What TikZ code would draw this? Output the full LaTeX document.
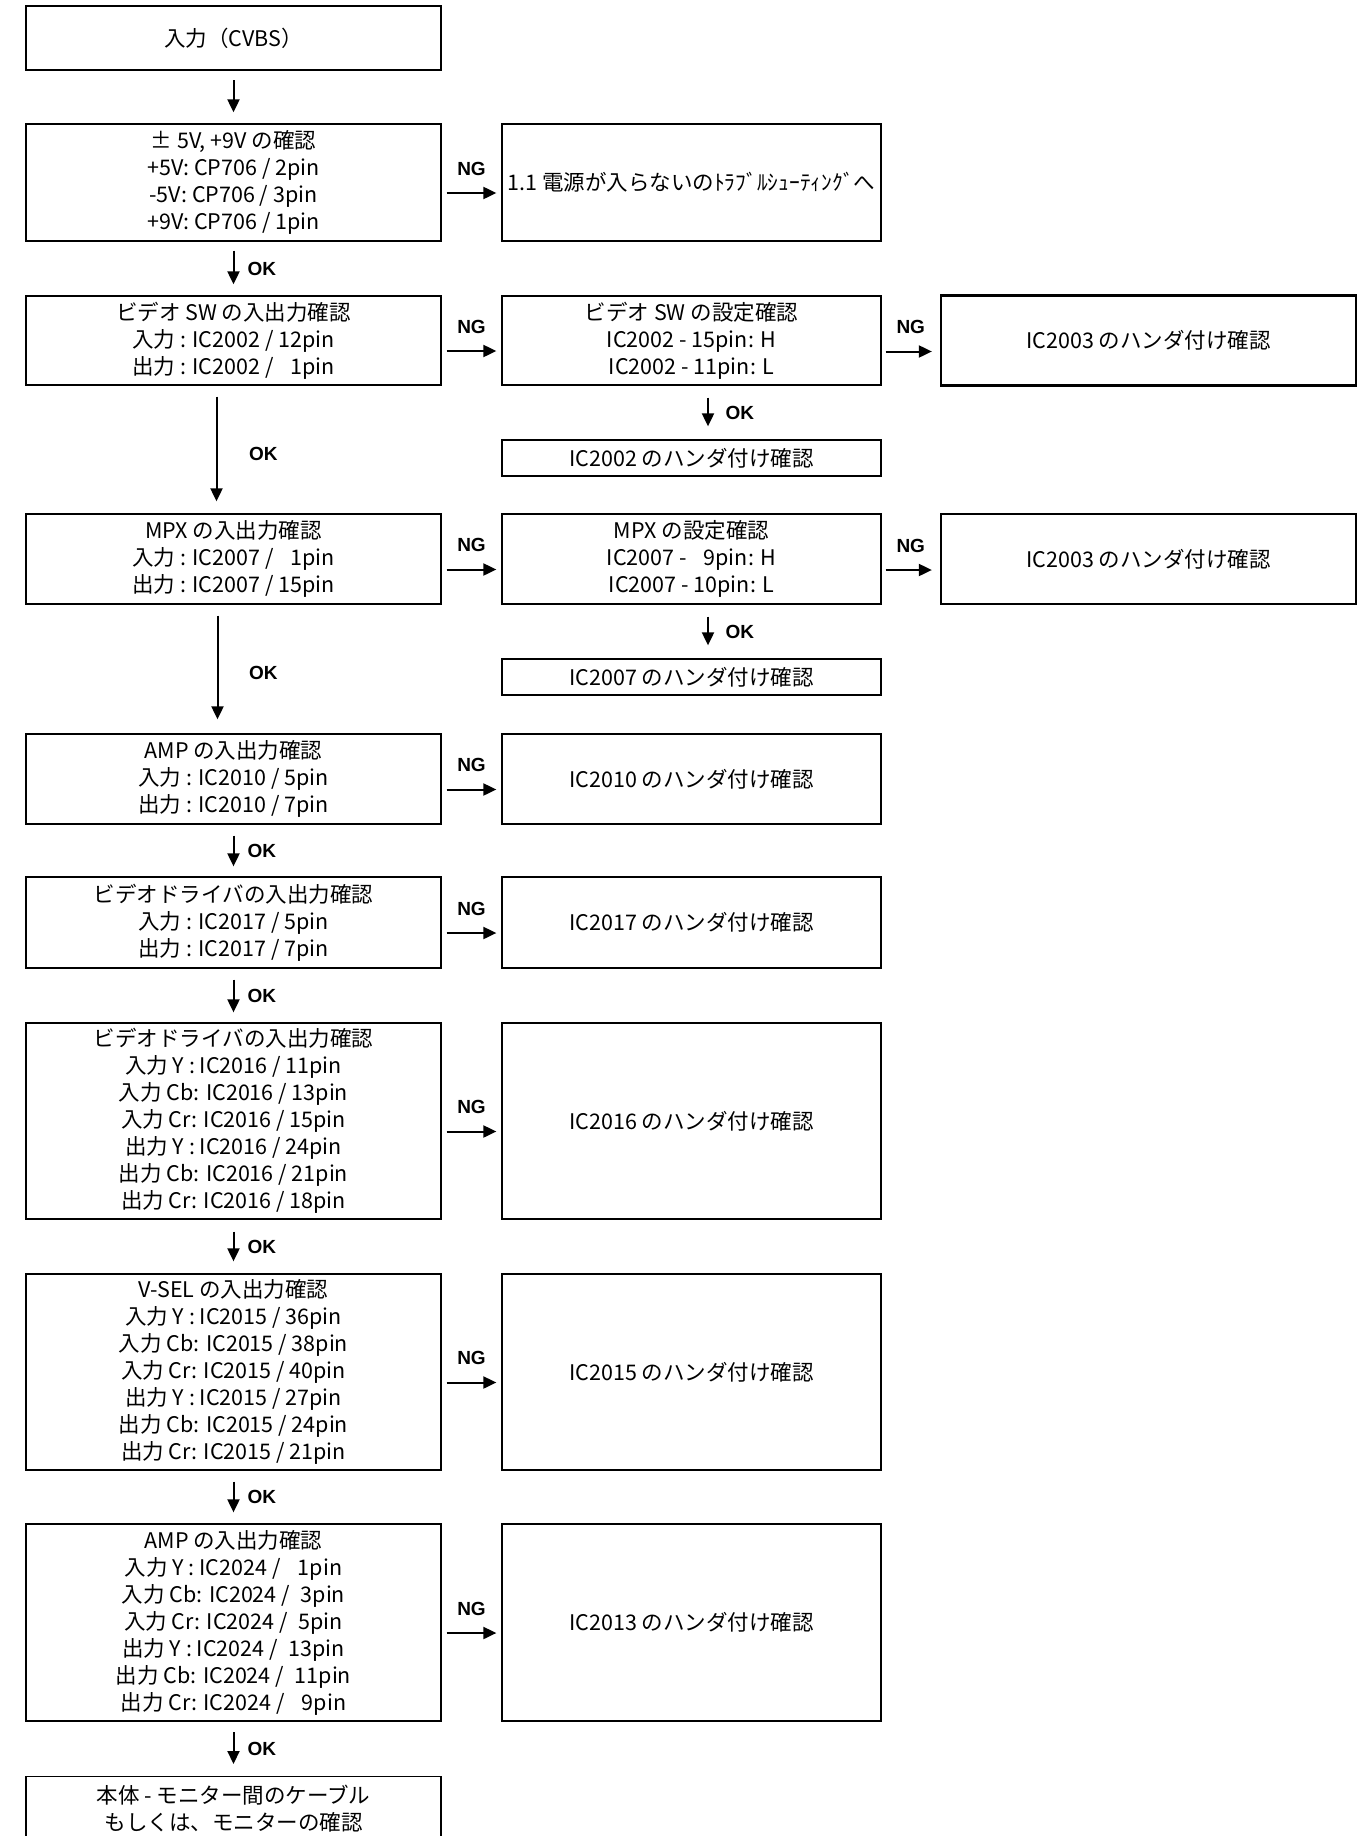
\documentclass[tikz,border=0pt]{standalone}
\usepackage{fontspec}
\newfontfamily\jpfont{Noto Sans CJK JP}
\newfontfamily\labfont{Liberation Sans}
\usetikzlibrary{arrows.meta}
\begin{document}
\begin{tikzpicture}[x=1pt,y=-1pt,
  box/.style={draw, line width=1.3pt, inner sep=0pt, align=center,
    font=\jpfont\fontsize{21.5}{27}\selectfont},
  lbox/.style={box, minimum width=415pt},
  mbox/.style={box, minimum width=379pt},
  rbox/.style={box, minimum width=415pt, line width=2.3pt},
  arr/.style={line width=2pt, -{Triangle[length=13pt,width=12pt]}},
  lab/.style={font=\labfont\bfseries\fontsize{19}{22}\selectfont, inner sep=0pt},
]
\useasboundingbox (0,0) rectangle (1366,1836);

% left column
\node[lbox, line width=2.3pt, minimum height=64pt] (in) at (233.5,38) {入力（CVBS）};
\node[lbox, minimum height=117pt] (pw) at (233.5,182.5) {± 5V, +9V の確認\\+5V: CP706 / 2pin\\-5V: CP706 / 3pin\\+9V: CP706 / 1pin};
\node[lbox, minimum height=89pt] (vsw) at (233.5,340.5) {ビデオ SW の入出力確認\\入力 : IC2002 / 12pin\\出力 : IC2002 / \phantom{1}1pin};
\node[lbox, minimum height=90pt] (mpx) at (233.5,559) {MPX の入出力確認\\入力 : IC2007 / \phantom{1}1pin\\出力 : IC2007 / 15pin};
\node[lbox, minimum height=90pt] (amp) at (233.5,779) {AMP の入出力確認\\入力 : IC2010 / 5pin\\出力 : IC2010 / 7pin};
\node[lbox, minimum height=91pt] (vd) at (233.5,922.5) {ビデオドライバの入出力確認\\入力 : IC2017 / 5pin\\出力 : IC2017 / 7pin};
\node[lbox, minimum height=196pt] (vdb) at (233.5,1121) {ビデオドライバの入出力確認\\入力 Y : IC2016 / 11pin\\入力 Cb: IC2016 / 13pin\\入力 Cr: IC2016 / 15pin\\出力 Y : IC2016 / 24pin\\出力 Cb: IC2016 / 21pin\\出力 Cr: IC2016 / 18pin};
\node[lbox, minimum height=196pt] (vsel) at (233.5,1372) {V-SEL の入出力確認\\入力 Y : IC2015 / 36pin\\入力 Cb: IC2015 / 38pin\\入力 Cr: IC2015 / 40pin\\出力 Y : IC2015 / 27pin\\出力 Cb: IC2015 / 24pin\\出力 Cr: IC2015 / 21pin};
\node[lbox, minimum height=197pt] (ampb) at (233.5,1622.5) {AMP の入出力確認\\入力 Y : IC2024 /\hspace{0.8em}1pin\\入力 Cb: IC2024 /\hspace{0.5em}3pin\\入力 Cr: IC2024 /\hspace{0.5em}5pin\\出力 Y : IC2024 /\hspace{0.5em}13pin\\出力 Cb: IC2024 /\hspace{0.5em}11pin\\出力 Cr: IC2024 /\hspace{0.8em}9pin};
\node[lbox, minimum height=64pt, anchor=north] (last) at (233.5,1776) {本体 - モニター間のケーブル\\もしくは、モニターの確認};

% middle column
\node[mbox, minimum height=117pt] (ngpw) at (691.5,182.5) {1.1 電源が入らないのﾄﾗﾌﾞﾙｼｭｰﾃｨﾝｸﾞへ};
\node[mbox, minimum height=89pt] (vsws) at (691.5,340.5) {ビデオ SW の設定確認\\IC2002 - 15pin: H\\IC2002 - 11pin: L};
\node[mbox, minimum height=36pt] (sol2002) at (691.5,458) {IC2002 のハンダ付け確認};
\node[mbox, minimum height=90pt] (mpxs) at (691.5,559) {MPX の設定確認\\IC2007 - \phantom{1}9pin: H\\IC2007 - 10pin: L};
\node[mbox, minimum height=36pt] (sol2007) at (691.5,677) {IC2007 のハンダ付け確認};
\node[mbox, minimum height=90pt] (sol2010) at (691.5,779) {IC2010 のハンダ付け確認};
\node[mbox, minimum height=91pt] (sol2017) at (691.5,922.5) {IC2017 のハンダ付け確認};
\node[mbox, minimum height=196pt] (sol2016) at (691.5,1121) {IC2016 のハンダ付け確認};
\node[mbox, minimum height=196pt] (sol2015) at (691.5,1372) {IC2015 のハンダ付け確認};
\node[mbox, minimum height=197pt] (sol2013) at (691.5,1622.5) {IC2013 のハンダ付け確認};

% right column
\node[rbox, minimum height=90pt] (sol2003a) at (1148.5,340.5) {IC2003 のハンダ付け確認};
\node[rbox, minimum height=90pt] (sol2003b) at (1148.5,559) {IC2003 のハンダ付け確認};

% OK arrows (left column)
\draw[arr, shorten <=9pt, shorten >=11pt] (in) -- (pw);
\draw[arr, shorten <=9pt, shorten >=11pt] (pw) -- node[lab, anchor=west, xshift=13pt]{OK} (vsw);
\draw[arr, shorten <=11pt, shorten >=12pt] ([xshift=-17pt]vsw.south) -- node[lab, anchor=west, xshift=31.5pt, yshift=-4pt]{OK} ([xshift=-17pt]mpx.north);
\draw[arr, shorten <=11pt, shorten >=14pt] ([xshift=-16pt]mpx.south) -- node[lab, anchor=west, xshift=30.5pt, yshift=-4pt]{OK} ([xshift=-16pt]amp.north);
\draw[arr, shorten <=11pt, shorten >=10pt] (amp) -- node[lab, anchor=west, xshift=13pt]{OK} (vd);
\draw[arr, shorten <=11pt, shorten >=10pt] (vd) -- node[lab, anchor=west, xshift=13pt]{OK} (vdb);
\draw[arr, shorten <=12pt, shorten >=12pt] (vdb) -- node[lab, anchor=west, xshift=13pt]{OK} (vsel);
\draw[arr, shorten <=11pt, shorten >=11pt] (vsel) -- node[lab, anchor=west, xshift=13pt]{OK} (ampb);
\draw[arr, shorten <=10.5pt, shorten >=12pt] (ampb) -- node[lab, anchor=west, xshift=13pt]{OK} (last);

% OK arrows (middle column)
\draw[arr, shorten <=12pt, shorten >=13pt] ([xshift=16.5pt]vsws.south) -- node[lab, anchor=west, xshift=16.5pt]{OK} ([xshift=16.5pt]sol2002.north);
\draw[arr, shorten <=12pt, shorten >=13pt] ([xshift=16.5pt]mpxs.south) -- node[lab, anchor=west, xshift=16.5pt]{OK} ([xshift=16.5pt]sol2007.north);

% NG arrows (left to middle)
\foreach \a/\b in {pw/ngpw, vsw/vsws, mpx/mpxs, amp/sol2010, vd/sol2017, vdb/sol2016, vsel/sol2015, ampb/sol2013}{
  \draw[arr, shorten <=5pt, shorten >=5pt] ([yshift=-10.5pt]\a.east) -- node[lab, yshift=24.5pt]{NG} ([yshift=-10.5pt]\b.west);
}
% NG arrows (middle to right)
\draw[arr, shorten <=4pt, shorten >=8pt] ([yshift=-11pt]vsws.east) -- node[lab, yshift=24.5pt]{NG} ([yshift=-11pt]sol2003a.west);
\draw[arr, shorten <=4pt, shorten >=8pt] ([yshift=-11pt]mpxs.east) -- node[lab, yshift=24.5pt]{NG} ([yshift=-11pt]sol2003b.west);
\end{tikzpicture}
\end{document}
